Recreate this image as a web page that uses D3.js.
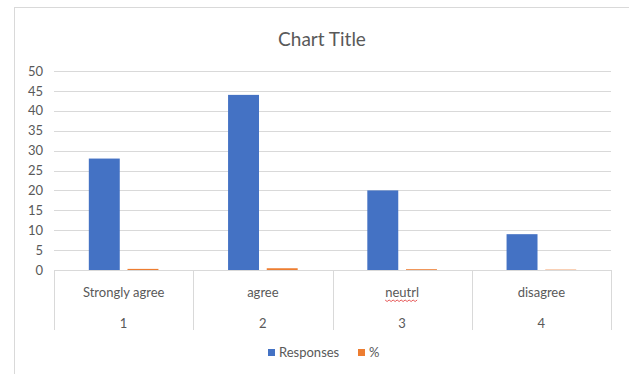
<!DOCTYPE html>
<html>
<head>
<meta charset="utf-8">
<script src="https://cdn.jsdelivr.net/npm/d3@7"></script>
<style>
  html, body { margin: 0; padding: 0; background: #fff; }
  svg { display: block; font-family: Lato, "Open Sans", sans-serif; }
</style>
</head>
<body>
<svg id="chart" width="629" height="374"></svg>
<script>
// Survey responses by agreement level
const categories = ["Strongly agree", "agree", "neutrl", "disagree"];
const codes = ["1", "2", "3", "4"];
const responses = [28, 44, 20, 9];
const percent = [0.28, 0.44, 0.2, 0.09];
const seriesNames = ["Responses", "%"];
const yTicks = [0, 5, 10, 15, 20, 25, 30, 35, 40, 45, 50];

const colors = { Responses: "#4472c4", "%": "#ed7d31" };

const svg = d3.select("#chart");

// outer chart border
svg.append("rect")
  .attr("x", 14.5).attr("y", 7.5)
  .attr("width", 620).attr("height", 380)
  .attr("fill", "#fff").attr("stroke", "#d9d9d9");

svg.append("text")
  .attr("x", 322).attr("y", 46)
  .attr("text-anchor", "middle")
  .attr("font-size", 19)
  .attr("fill", "#595959")
  .text("Chart Title");

const plot = { left: 54, right: 611, top: 71, bottom: 270 };

const y = d3.scaleLinear().domain([0, 50]).range([plot.bottom, plot.top]);
const x = d3.scaleBand().domain(categories).range([plot.left, plot.right]);
const inner = d3.scaleBand().domain(seriesNames)
  .range([x.bandwidth() * 0.25, x.bandwidth() * 0.75]).paddingInner(0.2);

// gridlines
svg.append("g").selectAll("line").data(yTicks.filter(d => d > 0)).join("line")
  .attr("x1", plot.left).attr("x2", plot.right)
  .attr("y1", d => Math.round(y(d)) + 0.5).attr("y2", d => Math.round(y(d)) + 0.5)
  .attr("stroke", "#d9d9d9").attr("stroke-width", 1);

// y axis labels
const yAxis = d3.axisLeft(y).tickValues(yTicks).tickSize(0).tickPadding(0);
const gy = svg.append("g").attr("transform", `translate(${plot.left - 11},0)`).call(yAxis);
gy.select(".domain").remove();
gy.selectAll("text").attr("font-size", 13).attr("fill", "#595959")
  .attr("font-family", "Lato, 'Open Sans', sans-serif");

// bars
const groups = svg.append("g").selectAll("g").data(categories).join("g")
  .attr("transform", d => `translate(${x(d)},0)`);

groups.append("rect")
  .attr("x", inner("Responses"))
  .attr("width", inner.bandwidth())
  .attr("y", (d, i) => y(responses[i]))
  .attr("height", (d, i) => plot.bottom - y(responses[i]))
  .attr("fill", colors.Responses);

groups.append("rect")
  .attr("x", inner("%"))
  .attr("width", inner.bandwidth())
  .attr("y", (d, i) => y(percent[i]))
  .attr("height", (d, i) => plot.bottom - y(percent[i]))
  .attr("fill", colors["%"]);

// category axis (two levels)
svg.append("line")
  .attr("x1", plot.left).attr("x2", plot.right)
  .attr("y1", plot.bottom + 0.5).attr("y2", plot.bottom + 0.5)
  .attr("stroke", "#d9d9d9");

const bounds = categories.map(c => x(c)).concat([plot.right]);
svg.append("g").selectAll("line").data(bounds).join("line")
  .attr("x1", d => Math.round(d) + 0.5).attr("x2", d => Math.round(d) + 0.5)
  .attr("y1", plot.bottom).attr("y2", 330)
  .attr("stroke", "#d9d9d9");

svg.append("g").selectAll("text").data(categories).join("text")
  .attr("x", d => x(d) + x.bandwidth() / 2)
  .attr("y", 297)
  .attr("text-anchor", "middle")
  .attr("font-size", 13).attr("fill", "#595959")
  .text(d => d);

svg.append("g").selectAll("text").data(codes).join("text")
  .attr("x", (d, i) => x(categories[i]) + x.bandwidth() / 2)
  .attr("y", 328)
  .attr("text-anchor", "middle")
  .attr("font-size", 13).attr("fill", "#595959")
  .text(d => d);

// spell-check style squiggle under "neutrl"
const nx = x("neutrl") + x.bandwidth() / 2;
const sq = d3.range(0, 34, 2).map((t, i) => [nx - 17 + t, 300 + (i % 2 ? 1.5 : 0)]);
svg.append("path").attr("d", d3.line()(sq))
  .attr("fill", "none").attr("stroke", "#e03030").attr("stroke-width", 0.8);

// legend
const legend = svg.append("g");
const legendItems = [
  { name: "Responses", x: 268 },
  { name: "%", x: 358 }
];
legend.selectAll("rect").data(legendItems).join("rect")
  .attr("x", d => d.x).attr("y", 349)
  .attr("width", 7).attr("height", 7)
  .attr("fill", d => colors[d.name]);
legend.selectAll("text").data(legendItems).join("text")
  .attr("x", d => d.x + 11).attr("y", 357)
  .attr("font-size", 13).attr("fill", "#595959")
  .text(d => d.name);
</script>
</body>
</html>
